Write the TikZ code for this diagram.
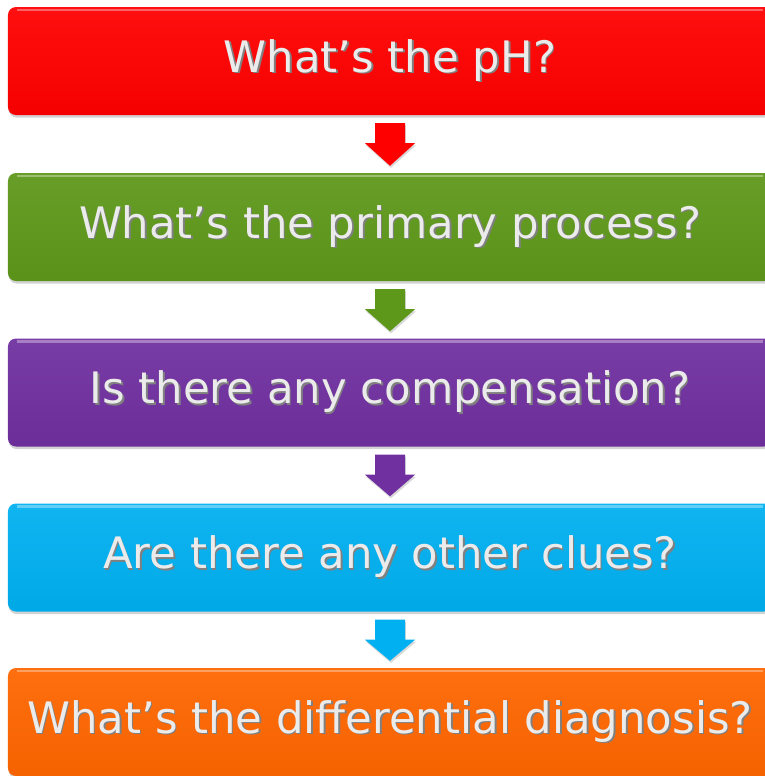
\documentclass[tikz,border=0pt]{standalone}
\usepackage{fontspec}
\setmainfont{DejaVu Sans}
\usetikzlibrary{calc,shadows,positioning}
\definecolor{stepred}{HTML}{FF0000}
\definecolor{stepgreen}{HTML}{5E981A}
\definecolor{steppurple}{HTML}{7030A0}
\definecolor{stepcyan}{HTML}{00B0F0}
\definecolor{steporange}{HTML}{FF6600}
\newcommand\softshadow[1]{\makebox[0pt][l]{\hspace{1.4pt}\raisebox{-1.4pt}{\color{black!50}#1}}#1}
\tikzset{Step Box Style/.style={rounded corners=0.24cm, minimum width=22.92cm, minimum height=3.24cm,
  inner sep=0pt, text=white!92!black, font=\fontsize{37pt}{44pt}\selectfont,
  drop shadow={shadow xshift=0.6pt, shadow yshift=-2.2pt, opacity=0.35},
  path picture={\draw[white, opacity=0.35, line width=2pt]
    ([xshift=8pt, yshift=-2.5pt]path picture bounding box.north west) --
    ([xshift=-8pt, yshift=-2.5pt]path picture bounding box.north east);}}}
\tikzset{Step Arrow Style/.style={drop shadow={shadow xshift=0.8pt, shadow yshift=-1.8pt, opacity=0.3}}}

\begin{document}
\begin{tikzpicture}[x=0.03cm, y=0.03cm]
  \useasboundingbox (0,0) rectangle (765,-776);
  \clip (0,0) rectangle (765,-776);
  \foreach \n/\y/\c/\t in {1/61/stepred/{What’s the pH?},%
      2/227/stepgreen/{What’s the primary process?},%
      3/392.5/steppurple/{Is there any compensation?},%
      4/557.5/stepcyan/{Are there any other clues?},%
      5/722/steporange/{What’s the differential diagnosis?}}{%
    \node[Step Box Style, top color=\c!94!white, bottom color=\c!96!black] (b\n) at (390,-\y) {\softshadow{\t}};
  }
  \foreach \a/\b/\c in {1/2/stepred, 2/3/stepgreen, 3/4/steppurple, 4/5/stepcyan}{%
    \fill[Step Arrow Style, fill=\c] ($(b\a.south)+(-15,-8)$) -- ($(b\a.south)+(15,-8)$) --
      ($(b\a.south)+(15,-28)$) -- ($(b\a.south)+(25,-28)$) -- ($(b\b.north)+(0,7)$) --
      ($(b\a.south)+(-25,-28)$) -- ($(b\a.south)+(-15,-28)$) -- cycle;
  }
\end{tikzpicture}
\end{document}
